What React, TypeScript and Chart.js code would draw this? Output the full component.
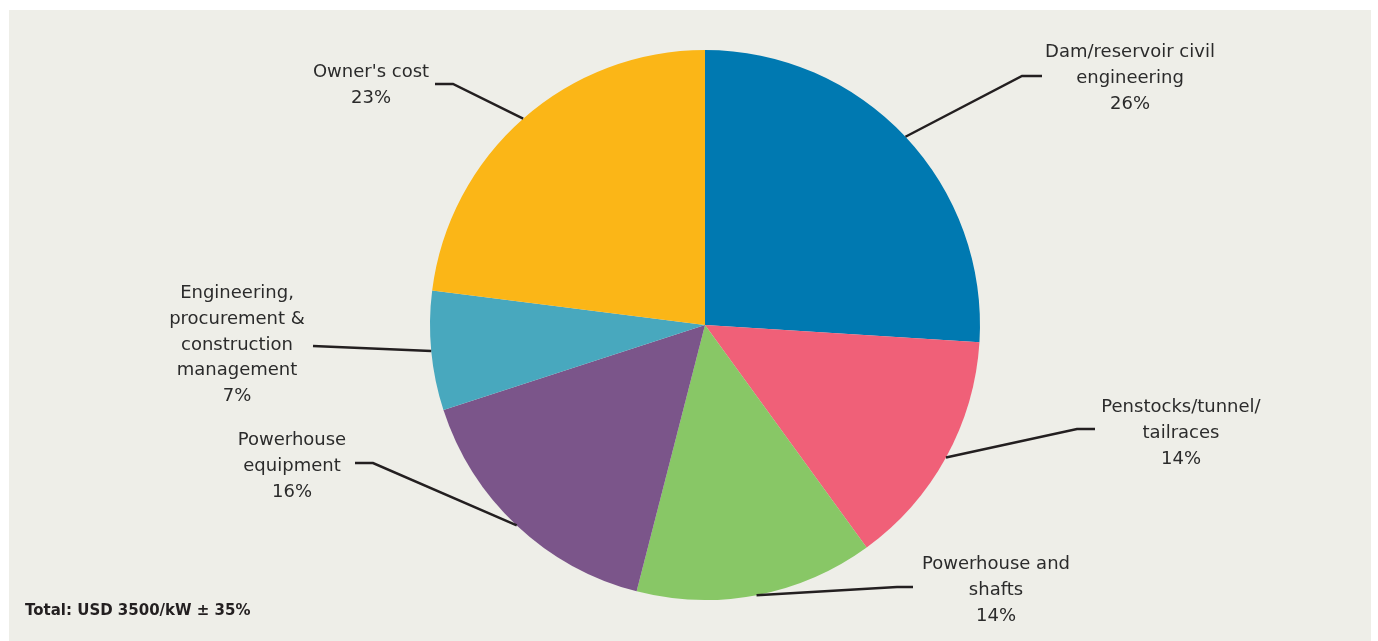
import React, { useEffect, useRef } from "react";
import { Chart, registerables } from "chart.js";

Chart.register(...registerables);

const categories = [
  "Dam/reservoir civil engineering",
  "Penstocks/tunnel/tailraces",
  "Powerhouse and shafts",
  "Powerhouse equipment",
  "Engineering, procurement & construction management",
  "Owner's cost",
];
const shares = [26, 14, 14, 16, 7, 23];
const labelText = [
  ["Dam/reservoir civil", "engineering"],
  ["Penstocks/tunnel/", "tailraces"],
  ["Powerhouse and", "shafts"],
  ["Powerhouse", "equipment"],
  ["Engineering,", "procurement &", "construction", "management"],
  ["Owner's cost"],
];
const footnote = "Total: USD 3500/kW \u00b1 35%";

const colors = ["#0079b1", "#f06078", "#88c766", "#7b558a", "#48a8be", "#fbb617"];

// label layout: elbow point, line end, text centre x, first baseline y
const layout = [
  { elbow: [1022, 76], end: [1042, 76], tx: 1130, ty: 57 },
  { elbow: [1077, 429], end: [1095, 429], tx: 1181, ty: 412 },
  { elbow: [897, 587], end: [913, 587], tx: 996, ty: 569 },
  { elbow: [373, 463], end: [355, 463], tx: 292, ty: 445 },
  { elbow: [313, 346], end: [313, 346], tx: 237, ty: 298 },
  { elbow: [453, 84], end: [435, 84], tx: 371, ty: 77 },
];

const FONT = "'DejaVu Sans', sans-serif";
const TEXT = "#2b2b2b";

const decorPlugin = {
  id: "decor",
  beforeDraw(chart: any) {
    const ctx = chart.ctx;
    ctx.save();
    ctx.fillStyle = "#ffffff";
    ctx.fillRect(0, 0, chart.width, chart.height);
    ctx.fillStyle = "#eeeee8";
    ctx.fillRect(9, 10, 1362, chart.height - 10);
    ctx.restore();
  },
  afterDraw(chart: any) {
    const ctx = chart.ctx;
    const meta = chart.getDatasetMeta(0);
    ctx.save();
    meta.data.forEach((arc: any, i: number) => {
      const p = arc.getProps(["x", "y", "startAngle", "endAngle", "outerRadius"], true);
      const mid = (p.startAngle + p.endAngle) / 2;
      const sx = p.x + Math.cos(mid) * p.outerRadius;
      const sy = p.y + Math.sin(mid) * p.outerRadius;
      const L = layout[i];
      ctx.strokeStyle = "#231f20";
      ctx.lineWidth = 2.5;
      ctx.beginPath();
      ctx.moveTo(sx, sy);
      ctx.lineTo(L.elbow[0], L.elbow[1]);
      ctx.lineTo(L.end[0], L.end[1]);
      ctx.stroke();
      const lines = [...labelText[i], shares[i] + "%"];
      ctx.fillStyle = TEXT;
      ctx.font = "18px " + FONT;
      ctx.textAlign = "center";
      ctx.textBaseline = "alphabetic";
      lines.forEach((t, j) => {
        ctx.fillText(t, L.tx, L.ty + j * 25.8);
      });
    });
    ctx.font = "bold 15px " + FONT;
    ctx.textAlign = "left";
    ctx.fillStyle = "#231f20";
    ctx.fillText(footnote, 25, 615);
    ctx.restore();
  },
};

export default function App() {
  const ref = useRef<HTMLCanvasElement | null>(null);
  useEffect(() => {
    if (!ref.current) return;
    const chart = new Chart(ref.current, {
      type: "pie",
      data: {
        labels: categories,
        datasets: [
          {
            data: shares,
            backgroundColor: colors,
            borderWidth: 0,
          },
        ],
      },
      options: {
        animation: false,
        responsive: false,
        devicePixelRatio: 1,
        layout: { padding: { left: 430, right: 398, top: 50, bottom: 41 } },
        plugins: {
          legend: { display: false },
          tooltip: { enabled: false },
        },
      },
      plugins: [decorPlugin],
    });
    return () => chart.destroy();
  }, []);
  return (
    <div style={{ position: "fixed", left: 0, top: 0, width: 1378, height: 641, background: "#fff" }}>
      <canvas ref={ref} width={1378} height={641} />
    </div>
  );
}
